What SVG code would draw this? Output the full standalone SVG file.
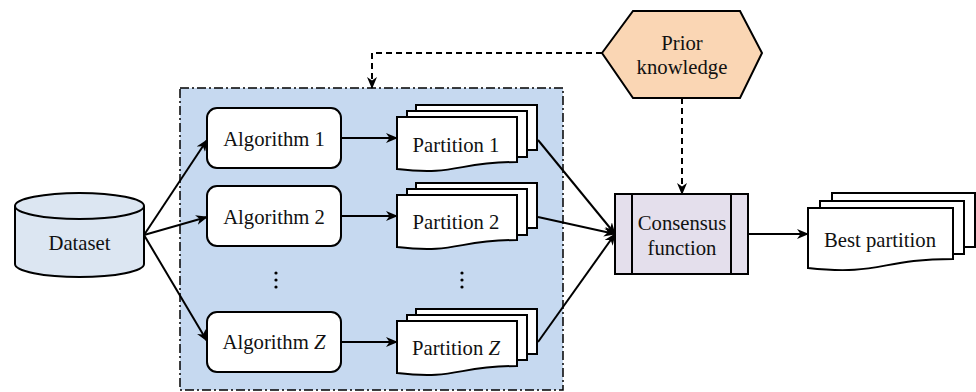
<svg xmlns="http://www.w3.org/2000/svg" width="976" height="392" viewBox="0 0 976 392" font-family="Liberation Serif, Times New Roman, serif">
<defs>
<marker id="arr" viewBox="0 0 12 10" refX="11" refY="5" markerWidth="12" markerHeight="10" markerUnits="userSpaceOnUse" orient="auto">
<path d="M0,0 L12,5 L0,10 L3.5,5 Z" fill="#000"/>
</marker>
<style>
text{font-size:20.7px;fill:#111;text-anchor:middle}
.ln{stroke:#000;stroke-width:2;fill:none}
.dash{stroke:#000;stroke-width:2;fill:none;stroke-dasharray:6,4}
.alg{fill:#fff;stroke:#000;stroke-width:2}
.sheet{fill:#fff;stroke:#000;stroke-width:2}
</style>
</defs>
<rect width="976" height="392" fill="#fff"/>

<g id="container">
<rect x="180" y="88" width="383" height="302" fill="#C6D9F0" stroke="#000" stroke-width="1.5" stroke-dasharray="9,3,2,3"/>
</g>

<g id="dataset">
<path d="M15,206 L15,264 A64.5,13 0 0 0 144,264 L144,206" fill="#DCE6F2" stroke="#000" stroke-width="2"/>
<ellipse cx="79.5" cy="206" rx="64.5" ry="13" fill="#DCE6F2" stroke="#000" stroke-width="2"/>
<text x="79.5" y="250">Dataset</text>
</g>

<g id="algorithm1">
<rect class="alg" x="207" y="108" width="134" height="60" rx="10"/>
<text x="274" y="146">Algorithm 1</text>
</g>
<g id="algorithm2">
<rect class="alg" x="207" y="186" width="134" height="60" rx="10"/>
<text x="274" y="224">Algorithm 2</text>
</g>
<g id="algorithmZ">
<rect class="alg" x="207" y="312" width="134" height="60" rx="10"/>
<text x="274" y="349">Algorithm <tspan font-style="italic">Z</tspan></text>
</g>

<g id="dots">
<circle cx="276" cy="273" r="1.6" fill="#000"/>
<circle cx="276" cy="280" r="1.6" fill="#000"/>
<circle cx="276" cy="287" r="1.6" fill="#000"/>
<circle cx="462" cy="273" r="1.6" fill="#000"/>
<circle cx="462" cy="280" r="1.6" fill="#000"/>
<circle cx="462" cy="287" r="1.6" fill="#000"/>
</g>

<g id="partition1">
<rect class="sheet" x="416" y="105" width="121" height="45"/>
<rect class="sheet" x="407" y="111" width="120" height="46"/>
<path class="sheet" d="M397,117 H517 V162 C457,162 457,176 397,169 Z"/>
<text x="456" y="152">Partition 1</text>
</g>
<g id="partition2">
<rect class="sheet" x="416" y="183" width="121" height="45"/>
<rect class="sheet" x="407" y="189" width="120" height="46"/>
<path class="sheet" d="M397,195 H517 V240 C457,240 457,254 397,247 Z"/>
<text x="456" y="229">Partition 2</text>
</g>
<g id="partitionZ">
<rect class="sheet" x="416" y="309" width="121" height="45"/>
<rect class="sheet" x="407" y="315" width="120" height="45"/>
<path class="sheet" d="M397,321 H517 V366 C457,366 457,380 397,373 Z"/>
<text x="456" y="355">Partition <tspan font-style="italic">Z</tspan></text>
</g>

<g id="prior">
<polygon points="602,53 633,11 740,11 762,53 740,98 633,98" fill="#FAD6B4" stroke="#000" stroke-width="2"/>
<text x="682" y="50">Prior</text>
<text x="682" y="74">knowledge</text>
</g>

<g id="consensus">
<rect x="615" y="194" width="133" height="80" fill="#E4DFEC" stroke="#000" stroke-width="2"/>
<line x1="632" y1="194" x2="632" y2="274" stroke="#000" stroke-width="2"/>
<line x1="731" y1="194" x2="731" y2="274" stroke="#000" stroke-width="2"/>
<text x="682" y="230">Consensus</text>
<text x="682" y="255">function</text>
</g>

<g id="best">
<rect class="sheet" x="832" y="193" width="143" height="54"/>
<rect class="sheet" x="820" y="201" width="144" height="53"/>
<path class="sheet" d="M808,208 H953 V259 C880,259 880,276 808,268 Z"/>
<text x="880" y="247">Best partition</text>
</g>

<g id="connectors">
<path class="ln" d="M144,235 L207,140" marker-end="url(#arr)"/>
<path class="ln" d="M144,235 L207,217" marker-end="url(#arr)"/>
<path class="ln" d="M144,235 L207,341" marker-end="url(#arr)"/>
<path class="ln" d="M341,138 L397,138" marker-end="url(#arr)"/>
<path class="ln" d="M341,216 L397,216" marker-end="url(#arr)"/>
<path class="ln" d="M341,342 L397,342" marker-end="url(#arr)"/>
<path class="ln" d="M538,140 L615,234" marker-end="url(#arr)"/>
<path class="ln" d="M538,217 L615,234" marker-end="url(#arr)"/>
<path class="ln" d="M538,342 L615,234" marker-end="url(#arr)"/>
<path class="ln" d="M748,234 L808,234" marker-end="url(#arr)"/>
<path class="dash" d="M602,53 H372 V88" marker-end="url(#arr)"/>
<path class="dash" d="M682,98 V194" marker-end="url(#arr)"/>
</g>
</svg>
